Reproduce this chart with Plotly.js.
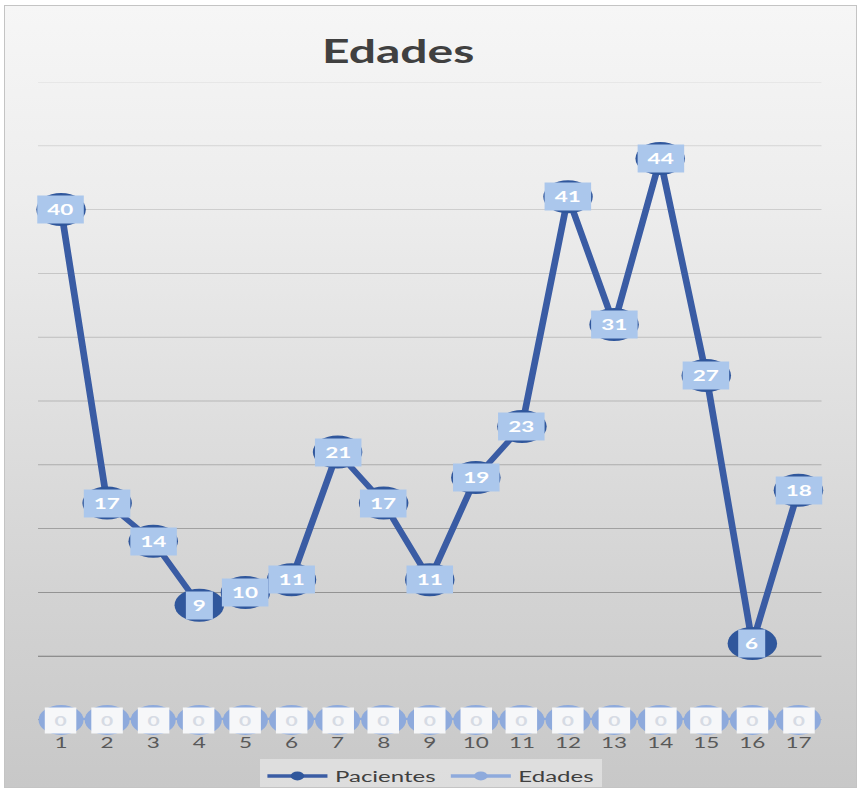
<!DOCTYPE html>
<html>
<head>
<meta charset="utf-8">
<script src="https://cdn.plot.ly/plotly-3.0.1.min.js"></script>
<style>
  html, body { margin: 0; padding: 0; background: #ffffff; }
  #frame {
    position: absolute; left: 4px; top: 5px; width: 851px; height: 781px;
    border: 1px solid #c4c4c4; overflow: hidden;
    background: linear-gradient(to bottom, #f6f6f6 0%, #ededed 25%, #e0e0e0 50%, #d3d3d3 75%, #c8c8c8 100%);
  }
  #chart { width: 567px; height: 781px; transform: scaleX(1.5009); transform-origin: 0 0; }
</style>
</head>
<body>
<div id="frame"><div id="chart"></div></div>
<script>
// ---- data ----
const categories = ["1","2","3","4","5","6","7","8","9","10","11","12","13","14","15","16","17"];
const pacientes = [40, 17, 14, 9, 10, 11, 21, 17, 11, 19, 23, 41, 31, 44, 27, 6, 18];
const edades    = [0, 0, 0, 0, 0, 0, 0, 0, 0, 0, 0, 0, 0, 0, 0, 0, 0];
const seriesNames = ["Pacientes", "Edades"];
const gridValues = [0, 5, 10, 15, 20, 25, 30, 35, 40, 45, 50];

const xs = categories.map(c => Number(c));
const darkBlue = '#3a5ca4';
const darkMarker = '#30579c';
const lightBlue = '#8eaadc';
const FONT = 'Lato, Open Sans, sans-serif';

const traces = [
  { x: xs, y: pacientes, name: seriesNames[0], mode: 'lines+markers', showlegend: false,
    line: { color: darkBlue, width: 4.5 }, marker: { color: darkMarker, size: 33 }, cliponaxis: false, hoverinfo: 'skip' },
  { x: xs, y: edades, name: seriesNames[1], mode: 'lines+markers', showlegend: false,
    line: { color: lightBlue, width: 4.5 }, marker: { color: lightBlue, size: 30 }, cliponaxis: false, hoverinfo: 'skip' },
  // legend samples
  { x: [null], y: [null], name: seriesNames[0], mode: 'lines+markers',
    line: { color: darkBlue, width: 3.5 }, marker: { color: darkMarker, size: 9 } },
  { x: [null], y: [null], name: seriesNames[1], mode: 'lines+markers',
    line: { color: lightBlue, width: 3.5 }, marker: { color: lightBlue, size: 9 } }
];

function gray(v) {
  const t = (v - 5) / 45;
  const c = Math.round(120 + 100 * Math.pow(Math.max(0, Math.min(1, t)), 0.6));
  return 'rgb(' + c + ',' + c + ',' + c + ')';
}
const shapes = gridValues.map(v => ({
  type: 'line', xref: 'paper', x0: 0, x1: 1, yref: 'y', y0: v, y1: v,
  line: { color: gray(v), width: 1 }, layer: 'below'
}));

const annotations = [];
pacientes.forEach((v, i) => {
  const s = String(v);
  annotations.push({
    x: xs[i], y: v, xref: 'x', yref: 'y', text: '<b>' + s + '</b>', showarrow: false,
    font: { family: FONT, size: 15, color: '#ffffff' },
    bgcolor: '#abc7ec', borderpad: 4, width: s.length * 13 - 4, height: 19
  });
});
edades.forEach((v, i) => {
  annotations.push({
    x: xs[i], y: v, xref: 'x', yref: 'y', text: '<b>' + v + '</b>', showarrow: false,
    font: { family: FONT, size: 14, color: '#d6dbe4' },
    bgcolor: '#f6f7f9', borderpad: 4, width: 12, height: 17
  });
});

const layout = {
  width: 567, height: 781,
  paper_bgcolor: 'rgba(0,0,0,0)', plot_bgcolor: 'rgba(0,0,0,0)',
  margin: { l: 22, r: 23, t: 76, b: 67 },
  title: {
    text: '<b>Edades</b>', xref: 'container', yref: 'container', x: 0.462, y: 0.941,
    xanchor: 'center', yanchor: 'middle',
    font: { family: FONT, size: 32, color: '#404040' }
  },
  xaxis: {
    range: [0.5, 17.5], tickvals: xs, ticktext: categories, showgrid: false, zeroline: false,
    showline: false, ticks: 'outside', ticklen: 9, tickcolor: 'rgba(0,0,0,0)',
    tickfont: { family: FONT, size: 15, color: '#595959' }, fixedrange: true
  },
  yaxis: {
    range: [0, 50], showgrid: false, zeroline: false, showticklabels: false, showline: false, fixedrange: true
  },
  showlegend: true,
  legend: {
    orientation: 'h', xref: 'container', x: 0.5006, xanchor: 'center',
    yref: 'container', y: 0.0141, yanchor: 'middle',
    bgcolor: 'rgba(238,238,238,0.55)', itemwidth: 40,
    font: { family: FONT, size: 16, color: '#404040' }
  },
  shapes: shapes,
  annotations: annotations
};

Plotly.newPlot('chart', traces, layout, { displayModeBar: false, staticPlot: true });
</script>
</body>
</html>
